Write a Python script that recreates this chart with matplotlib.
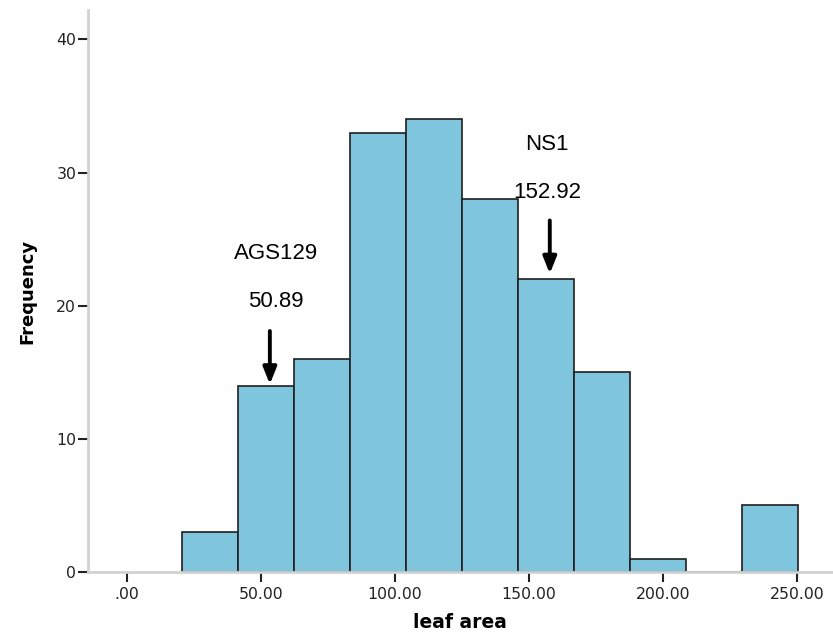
import numpy as np
import matplotlib
matplotlib.use("Agg")
import matplotlib.pyplot as plt

# histogram data (leaf area)
bin_start = 20.6
bin_width = 20.88
counts = [3, 14, 16, 33, 34, 28, 22, 15, 1, 0, 5]
edges = bin_start + bin_width * np.arange(len(counts) + 1)

x_ticks = [0, 50, 100, 150, 200, 250]
x_tick_labels = [".00", "50.00", "100.00", "150.00", "200.00", "250.00"]
y_ticks = [0, 10, 20, 30, 40]

# marked genotypes: name, value label, text x, arrow x, arrow tail/tip y
marks = [
    ("AGS129", "50.89", 55.7, 53.3, 18.1, 14.1),
    ("NS1", "152.92", 156.7, 157.8, 26.4, 22.4),
]
name_y = [23.9, 32.1]
value_y = [20.3, 28.5]

fig = plt.figure(figsize=(8.33, 6.36), dpi=100)
ax = fig.add_axes([0.1056, 0.1006, 0.894, 0.8836])

ax.bar(edges[:-1], counts, width=np.diff(edges), align="edge",
       color="#80C5DE", edgecolor="#1f1f1f", linewidth=1.2)

ax.set_xlim(-14.6, 263.4)
ax.set_ylim(0, 42.2)

ax.set_xticks(x_ticks)
ax.set_xticklabels(x_tick_labels)
ax.set_yticks(y_ticks)

for lab in ax.get_xticklabels() + ax.get_yticklabels():
    lab.set_family("DejaVu Sans")
    lab.set_fontsize(11.3)
    lab.set_color("#222222")

ax.tick_params(axis="x", direction="out", length=7, width=1.5, pad=4, color="#222222")
ax.tick_params(axis="y", direction="out", length=7, width=1.5, pad=1.5, color="#222222")

for s in ["top", "right"]:
    ax.spines[s].set_visible(False)
for s in ["left", "bottom"]:
    ax.spines[s].set_color("#d2d2d2")
    ax.spines[s].set_linewidth(2)

ax.set_xlabel("leaf area", family="DejaVu Sans", fontweight="bold", fontsize=13.5, labelpad=8)
ax.set_ylabel("Frequency", family="DejaVu Sans", fontweight="bold", fontsize=13, labelpad=14)

for (name, val, tx, ax_x, tail, tip), ny, vy in zip(marks, name_y, value_y):
    ax.text(tx, ny, name, ha="center", va="center", fontsize=16, family="Liberation Sans")
    ax.text(tx, vy, val, ha="center", va="center", fontsize=16, family="Liberation Sans")
    ax.annotate("", xy=(ax_x, tip), xytext=(ax_x, tail),
                arrowprops=dict(arrowstyle="-|>,head_width=0.4,head_length=1.0",
                                lw=2.8, color="black", shrinkA=0, shrinkB=0))

fig.savefig("out.png", dpi=100)
